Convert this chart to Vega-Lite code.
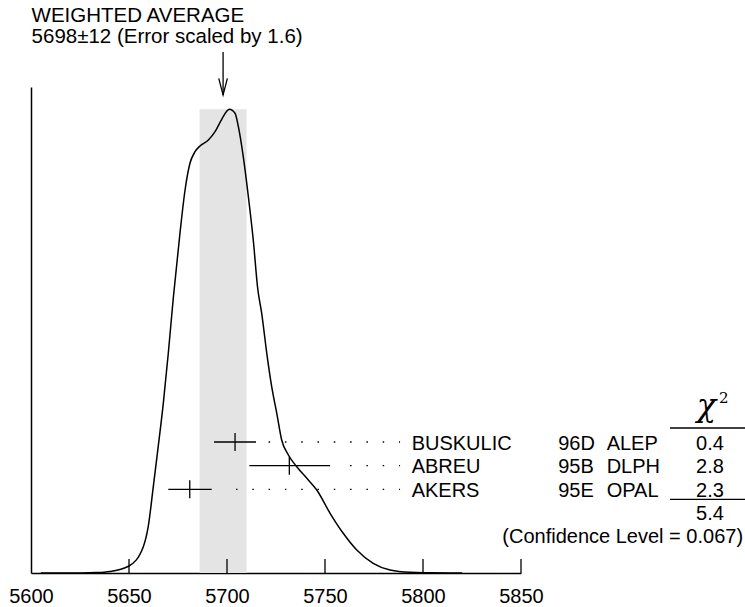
{
  "$schema": "https://vega.github.io/schema/vega-lite/v6.json",
  "autosize": {"type": "none"},
  "width": 490,
  "height": 486,
  "padding": {"left": 31, "top": 87, "right": 224, "bottom": 34},
  "background": "white",
  "config": {
    "view": {"stroke": null},
    "font": "Liberation Sans",
    "text": {"font": "Liberation Sans", "fontSize": 20, "color": "black"}
  },
  "data": {"values": [{"one": 1}]},
  "datasets": {
    "curve": [
      {"mass": 5605, "density": 0},
      {"mass": 5625, "density": 0.1},
      {"mass": 5633.5, "density": 0.4},
      {"mass": 5640.3, "density": 1.5},
      {"mass": 5650, "density": 7},
      {"mass": 5657.3, "density": 26.3},
      {"mass": 5659.8, "density": 46.3},
      {"mass": 5662.4, "density": 86.3},
      {"mass": 5664.9, "density": 126.3},
      {"mass": 5667.5, "density": 169.7},
      {"mass": 5670.05, "density": 219.7},
      {"mass": 5672.6, "density": 275},
      {"mass": 5676.0, "density": 339.7},
      {"mass": 5678.6, "density": 383},
      {"mass": 5681.1, "density": 409.7},
      {"mass": 5683.7, "density": 421.3},
      {"mass": 5686.2, "density": 427},
      {"mass": 5690.5, "density": 433},
      {"mass": 5693.9, "density": 441.3},
      {"mass": 5697.3, "density": 453.7},
      {"mass": 5701.2, "density": 463.7},
      {"mass": 5704.1, "density": 459.7},
      {"mass": 5705.8, "density": 446.3},
      {"mass": 5708.3, "density": 416.3},
      {"mass": 5710.9, "density": 376.3},
      {"mass": 5713.4, "density": 333},
      {"mass": 5715.7, "density": 284},
      {"mass": 5717.7, "density": 259.7},
      {"mass": 5720.3, "density": 219.7},
      {"mass": 5722.8, "density": 186.3},
      {"mass": 5725.4, "density": 159.7},
      {"mass": 5727.9, "density": 133},
      {"mass": 5731.3, "density": 118},
      {"mass": 5735.6, "density": 106.3},
      {"mass": 5741.5, "density": 93},
      {"mass": 5745.8, "density": 83},
      {"mass": 5752.6, "density": 59.7},
      {"mass": 5759.3, "density": 39.7},
      {"mass": 5766.2, "density": 23},
      {"mass": 5774.6, "density": 9.7},
      {"mass": 5783.2, "density": 3},
      {"mass": 5793.4, "density": 0.7},
      {"mass": 5803.6, "density": 0.3},
      {"mass": 5820, "density": 0}
    ],
    "meas": [
      {"name": "BUSKULIC", "year": "96D", "tec": "ALEP", "value": 5704.1, "lo": 5693.4, "hi": 5714.8, "level": 131, "chi2": "0.4"},
      {"name": "ABREU", "year": "95B", "tec": "DLPH", "value": 5731.8, "lo": 5711.4, "hi": 5752.6, "level": 107.3, "chi2": "2.8"},
      {"name": "AKERS", "year": "95E", "tec": "OPAL", "value": 5681.0, "lo": 5670.05, "hi": 5692.2, "level": 83.7, "chi2": "2.3"}
    ],
    "avg": [{"mean": 5698, "lo": 5686, "hi": 5710, "top": 463.7}],
    "ticks": [{"t": 5650}, {"t": 5700}, {"t": 5750}, {"t": 5800}, {"t": 5850}]
  },
  "layer": [
    {
      "data": {"name": "avg"},
      "mark": {"type": "rect", "color": "#e4e4e4"},
      "encoding": {
        "x": {"field": "lo", "type": "quantitative", "scale": {"domain": [5600, 5850], "nice": false, "zero": false},
              "axis": {"values": [5600, 5650, 5700, 5750, 5800, 5850], "format": "d", "ticks": false, "tickSize": 0, "grid": false, "title": null,
                       "domainColor": "black", "domainWidth": 1.5, "labelFont": "Liberation Sans", "labelFontSize": 20,
                       "labelColor": "black", "labelBaseline": "alphabetic", "labelPadding": 29, "labelFlush": false, "labelOverlap": false}},
        "x2": {"field": "hi"},
        "y": {"field": "top", "type": "quantitative", "scale": {"domain": [0, 486], "nice": false, "zero": true},
              "axis": {"labels": false, "ticks": false, "grid": false, "title": null, "domainColor": "black", "domainWidth": 1.5}},
        "y2": {"datum": 0}
      }
    },
    {
      "data": {"name": "ticks"},
      "mark": {"type": "rule", "color": "black", "strokeWidth": 1.3},
      "encoding": {
        "x": {"field": "t", "type": "quantitative"},
        "y": {"datum": 0, "type": "quantitative"},
        "y2": {"datum": 14}
      }
    },
    {
      "data": {"name": "curve"},
      "mark": {"type": "line", "color": "black", "strokeWidth": 1.5, "interpolate": "monotone"},
      "encoding": {
        "x": {"field": "mass", "type": "quantitative"},
        "y": {"field": "density", "type": "quantitative"}
      }
    },
    {
      "data": {"name": "meas"},
      "mark": {"type": "rule", "color": "black", "strokeWidth": 1.3},
      "encoding": {
        "x": {"field": "lo", "type": "quantitative"},
        "x2": {"field": "hi"},
        "y": {"field": "level", "type": "quantitative"}
      }
    },
    {
      "data": {"name": "meas"},
      "mark": {"type": "tick", "orient": "vertical", "color": "black", "opacity": 1, "size": 18, "thickness": 1.3},
      "encoding": {
        "x": {"field": "value", "type": "quantitative"},
        "y": {"field": "level", "type": "quantitative"}
      }
    },
    {
      "data": {"name": "meas"},
      "mark": {"type": "rule", "color": "black", "strokeWidth": 1.3, "strokeDash": [1.5, 14.8], "xOffset": 11,
               "strokeDashOffset": {"expr": "(16.3 - ((368 - (scale('x', datum.hi) + 11)) % 16.3)) % 16.3"}},
      "encoding": {
        "x": {"field": "hi", "type": "quantitative"},
        "x2": {"datum": 5788.3},
        "y": {"field": "level", "type": "quantitative"}
      }
    },
    {
      "data": {"name": "meas"},
      "mark": {"type": "text", "align": "left", "baseline": "alphabetic", "dy": 7.5},
      "encoding": {
        "x": {"datum": 5794.2, "type": "quantitative"},
        "y": {"field": "level", "type": "quantitative"},
        "text": {"field": "name"}
      }
    },
    {
      "data": {"name": "meas"},
      "mark": {"type": "text", "align": "left", "baseline": "alphabetic", "dy": 7.5},
      "encoding": {
        "x": {"datum": 5869.0, "type": "quantitative"},
        "y": {"field": "level", "type": "quantitative"},
        "text": {"field": "year"}
      }
    },
    {
      "data": {"name": "meas"},
      "mark": {"type": "text", "align": "left", "baseline": "alphabetic", "dy": 7.5},
      "encoding": {
        "x": {"datum": 5893.7, "type": "quantitative"},
        "y": {"field": "level", "type": "quantitative"},
        "text": {"field": "tec"}
      }
    },
    {
      "data": {"name": "meas"},
      "mark": {"type": "text", "align": "center", "baseline": "alphabetic", "dy": 7.5},
      "encoding": {
        "x": {"datum": 5946.4, "type": "quantitative"},
        "y": {"field": "level", "type": "quantitative"},
        "text": {"field": "chi2"}
      }
    },
    {
      "mark": {"type": "rule", "color": "black", "strokeWidth": 1.3},
      "encoding": {
        "x": {"datum": 5926, "type": "quantitative"},
        "x2": {"datum": 5964.3},
        "y": {"datum": 145, "type": "quantitative"}
      }
    },
    {
      "mark": {"type": "rule", "color": "black", "strokeWidth": 1.3},
      "encoding": {
        "x": {"datum": 5926, "type": "quantitative"},
        "x2": {"datum": 5964.3},
        "y": {"datum": 73.7, "type": "quantitative"}
      }
    },
    {
      "mark": {"type": "text", "align": "center", "baseline": "alphabetic", "font": "DejaVu Serif", "fontStyle": "italic", "fontSize": 32, "text": "χ"},
      "encoding": {
        "x": {"datum": 5944.6, "type": "quantitative"},
        "y": {"datum": 157, "type": "quantitative"}
      }
    },
    {
      "mark": {"type": "text", "align": "left", "baseline": "alphabetic", "font": "DejaVu Serif", "fontSize": 15, "text": "2"},
      "encoding": {
        "x": {"datum": 5951.0, "type": "quantitative"},
        "y": {"datum": 169.7, "type": "quantitative"}
      }
    },
    {
      "mark": {"type": "text", "align": "center", "baseline": "alphabetic", "text": "5.4"},
      "encoding": {
        "x": {"datum": 5946.4, "type": "quantitative"},
        "y": {"datum": 53, "type": "quantitative"}
      }
    },
    {
      "mark": {"type": "text", "align": "right", "baseline": "alphabetic", "text": "(Confidence Level = 0.067)"},
      "encoding": {
        "x": {"datum": 5963.3, "type": "quantitative"},
        "y": {"datum": 29.7, "type": "quantitative"}
      }
    },
    {
      "mark": {"type": "text", "align": "left", "baseline": "alphabetic", "fontSize": 20.5, "text": "WEIGHTED AVERAGE"},
      "encoding": {
        "x": {"datum": 5600.3, "type": "quantitative"},
        "y": {"datum": 551.5, "type": "quantitative"}
      }
    },
    {
      "mark": {"type": "text", "align": "left", "baseline": "alphabetic", "fontSize": 20.5, "text": "5698±12 (Error scaled by 1.6)"},
      "encoding": {
        "x": {"datum": 5600.3, "type": "quantitative"},
        "y": {"datum": 529.7, "type": "quantitative"}
      }
    },
    {
      "data": {"name": "avg"},
      "mark": {"type": "rule", "color": "black", "strokeWidth": 1.3},
      "encoding": {
        "x": {"field": "mean", "type": "quantitative"},
        "y": {"datum": 521, "type": "quantitative"},
        "y2": {"datum": 478}
      }
    },
    {
      "data": {"values": [
        {"px": 5695.8, "py": 494.7, "k": 1},
        {"px": 5698.0, "py": 478, "k": 2},
        {"px": 5700.2, "py": 494.7, "k": 3}
      ]},
      "mark": {"type": "line", "color": "black", "strokeWidth": 1.3},
      "encoding": {
        "x": {"field": "px", "type": "quantitative"},
        "y": {"field": "py", "type": "quantitative"},
        "order": {"field": "k", "type": "quantitative"}
      }
    }
  ]
}
